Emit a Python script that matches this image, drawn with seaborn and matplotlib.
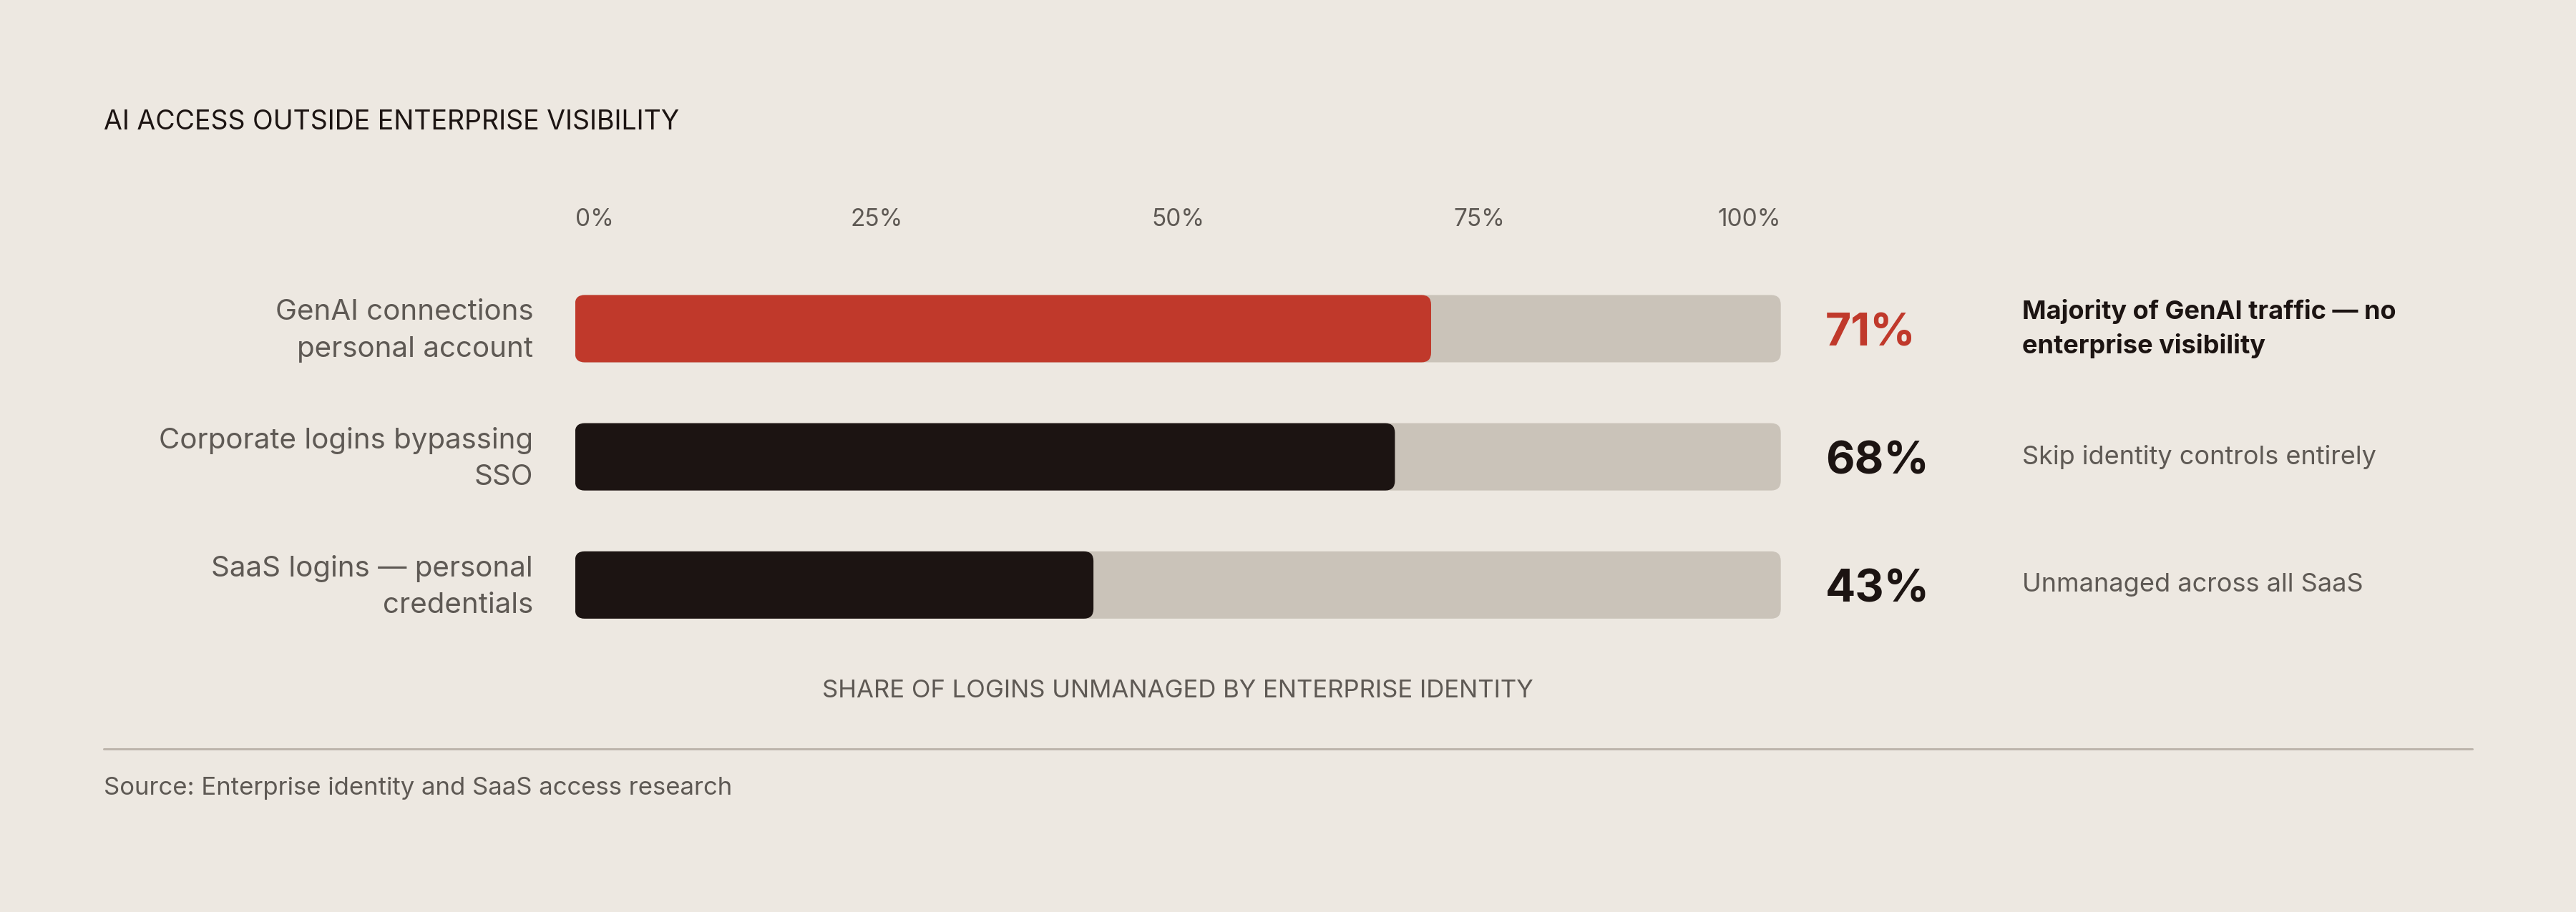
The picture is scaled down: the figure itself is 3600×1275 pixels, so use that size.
import matplotlib
matplotlib.use("Agg")
import matplotlib.pyplot as plt
import matplotlib.transforms as mtransforms
import seaborn as sns
import pandas as pd
from matplotlib.patches import FancyBboxPatch
from matplotlib.lines import Line2D

TITLE = "AI ACCESS OUTSIDE ENTERPRISE VISIBILITY"
CATEGORIES = [
    "GenAI connections\npersonal account",
    "Corporate logins bypassing\nSSO",
    "SaaS logins \u2014 personal\ncredentials",
]
VALUES = [71, 68, 43]
VALUE_LABELS = ["71%", "68%", "43%"]
NOTES = [
    "Majority of GenAI traffic \u2014 no\nenterprise visibility",
    "Skip identity controls entirely",
    "Unmanaged across all SaaS",
]
TICKS = [0, 25, 50, 75, 100]
TICK_LABELS = ["0%", "25%", "50%", "75%", "100%"]
AXIS_LABEL = "SHARE OF LOGINS UNMANAGED BY ENTERPRISE IDENTITY"
SOURCE = "Source: Enterprise identity and SaaS access research"

BG = "#EDE8E1"
TRACK = "#CAC3B9"
RED = "#C0392B"
DARK = "#1C1412"
GREY = "#5E5954"
RULE = "#BDB5AC"

sns.set_theme(style="white", rc={"figure.facecolor": BG, "axes.facecolor": BG})
plt.rcParams["font.family"] = ["Inter", "DejaVu Sans"]

df = pd.DataFrame({"category": CATEGORIES, "value": VALUES, "track": [100] * len(VALUES)})
bar_colors = [RED, DARK, DARK]

fig = plt.figure(figsize=(18, 6.375), dpi=200)
ax = fig.add_axes([0.2232, 0.2883, 0.4681, 0.4216])

sns.barplot(data=df, y="category", x="track", color=TRACK, width=0.525,
            orient="h", ax=ax, saturation=1)
sns.barplot(data=df, y="category", x="value", hue="category",
            palette=bar_colors, width=0.525, orient="h", ax=ax,
            saturation=1, legend=False)

# swap the square bars for rounded ones
r = 0.8
aspect = 0.094
for p in list(ax.patches):
    x, y = p.get_x(), p.get_y()
    w, h = p.get_width(), p.get_height()
    fc = p.get_facecolor()
    z = p.get_zorder()
    p.remove()
    ax.add_patch(FancyBboxPatch((x, y), w, h,
                                boxstyle=f"round,pad=0,rounding_size={r}",
                                mutation_aspect=aspect, facecolor=fc,
                                edgecolor="none", zorder=z))

ax.set_xlim(0, 100)
ax.set_ylim(2.5, -0.5)
for s in ax.spines.values():
    s.set_visible(False)
ax.set_xlabel("")
ax.set_ylabel("")

ax.xaxis.tick_top()
ax.set_xticks(TICKS)
ax.set_xticklabels(TICK_LABELS)
ax.tick_params(axis="x", length=0, pad=17, labelsize=12, labelcolor=GREY)
xlabels = ax.get_xticklabels()
xlabels[0].set_horizontalalignment("left")
xlabels[-1].set_horizontalalignment("right")

ax.tick_params(axis="y", length=0, pad=21, labelsize=14.5, labelcolor=GREY)
nudge = mtransforms.ScaledTranslation(0, 3 / 72, fig.dpi_scale_trans)
for lab in ax.get_yticklabels():
    lab.set_linespacing(1.5)
    lab.set_transform(lab.get_transform() + nudge)

tr = ax.get_yaxis_transform()
for i, (vl, note) in enumerate(zip(VALUE_LABELS, NOTES)):
    ax.text(1.037, i + 0.04, vl, transform=tr, ha="left", va="center",
            fontsize=22.5, fontweight="bold", color=RED if i == 0 else DARK)
    ax.text(1.200, i, note, transform=tr, ha="left", va="center",
            fontsize=13, linespacing=1.45,
            fontweight="bold" if i == 0 else "normal",
            color=DARK if i == 0 else GREY)

fig.text(0.0403, 0.866, TITLE, ha="left", va="center", fontsize=13.5, color=DARK)
fig.text(0.4573, 0.242, AXIS_LABEL, ha="center", va="center", fontsize=12.5, color=GREY)
fig.add_artist(Line2D([0.0403, 0.9598], [0.1788, 0.1788], color=RULE, lw=1.1))
fig.text(0.0403, 0.1357, SOURCE, ha="left", va="center", fontsize=12.5, color=GREY)

fig.savefig("out.png", dpi=200, facecolor=BG)
